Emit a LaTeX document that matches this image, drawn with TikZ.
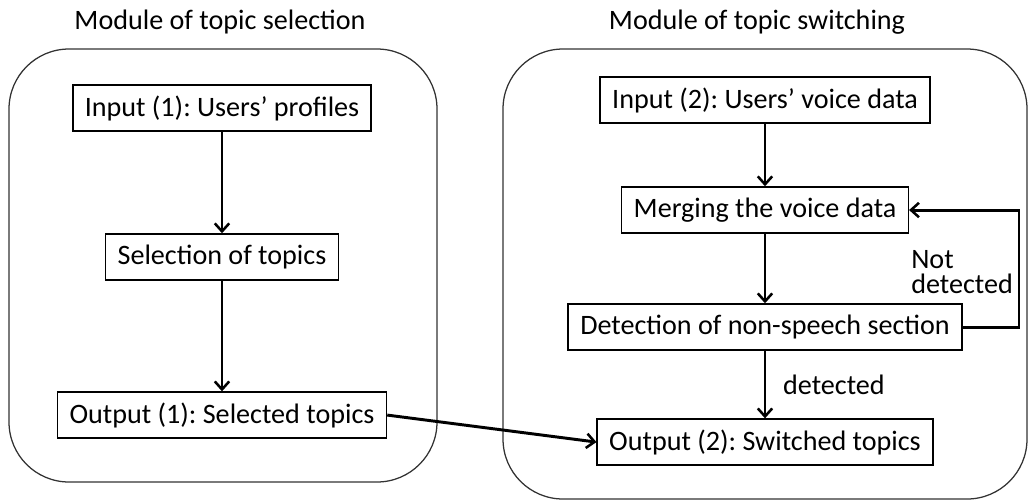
\documentclass[tikz,border=0pt]{standalone}
\usepackage{fontspec}
\setmainfont{Carlito}
\usepackage{tikz}
\usetikzlibrary{arrows.meta}
\frenchspacing

\begin{document}
\begin{tikzpicture}[x=0.025cm, y=-0.025cm, thick]
        \tikzstyle{block} = [rectangle, draw=black, line width=1.1pt, fill=white, inner xsep=0.3cm, minimum height=1.15cm, font=\fontsize{20}{22}\selectfont]
        \tikzstyle{module} = [draw=black!80, line width=0.9pt, rounded corners=1.5cm]
        \tikzstyle{title} = [font=\fontsize{20}{22}\selectfont]
        \tikzstyle{line} = [draw, line width=2.1pt, -{Straight Barb[length=0.2cm, width=0.36cm, line width=1.8pt]}]

        \useasboundingbox (0,0) rectangle (1031,502);

        % the two modules
        \draw [module] (9,49) rectangle (437,482);
        \draw [module] (503,49) rectangle (1027,499);
        \node [title] (selt) at (220,22) {Module of topic selection};
        \node [title] (swit) at (757,22) {Module of topic switching};

        % topic selection
        \node [block] (in1) at (222,108) {Input (1): Users’ profiles};
        \node [block, below of=in1, node distance=3.725cm] (sel) {Selection of topics};
        \node [block, below of=sel, node distance=3.95cm] (out1) {Output (1): Selected topics};

        % topic switching
        \node [block] (in2) at (765,100) {Input (2): Users’ voice data};
        \node [block, below of=in2, node distance=2.75cm] (merge) {Merging the voice data};
        \node [block, below of=merge, node distance=2.925cm] (detect) {Detection of non-speech section};
        \node [block, below of=detect, node distance=2.875cm] (out2) {Output (2): Switched topics};
        \coordinate (loop) at (1019,270);

        \path [line] (in1) -- (sel);
        \path [line] (sel) -- (out1);
        \path [line] (in2) -- (merge);
        \path [line] (merge) -- (detect);
        \path [line] (detect) -- node [right, xshift=0.3cm, title] {detected} (out2);
        \path [line] (detect.east) -| (loop) |- (merge.east);
        \node [title, anchor=west, align=left, font=\fontsize{20}{18}\selectfont] (notdet) at (906,272) {Not\\detected};
        \path [line] (out1.east) -- (out2.west);
    \end{tikzpicture}
\end{document}
